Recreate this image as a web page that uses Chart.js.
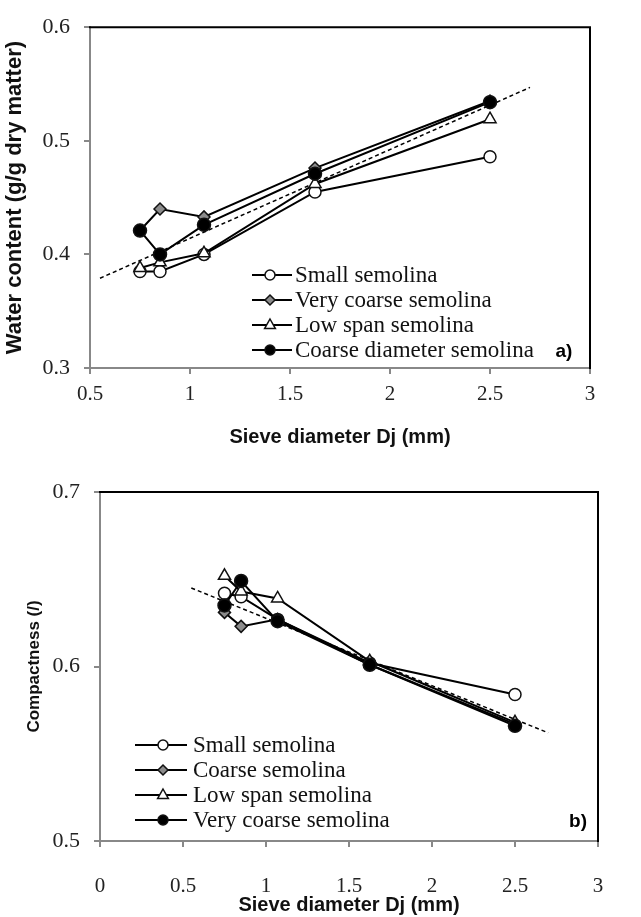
<!DOCTYPE html>
<html>
<head>
<meta charset="utf-8">
<script src="https://cdn.jsdelivr.net/npm/chart.js@4.4.1/dist/chart.umd.min.js"></script>
<style>
body { margin: 0; background: #fff; }
#wrap { position: relative; width: 641px; height: 917px; }
canvas { position: absolute; left: 0; }
</style>
</head>
<body>
<div id="wrap">
  <canvas id="chartA" width="641" height="452" style="top:0px"></canvas>
  <canvas id="chartB" width="641" height="457" style="top:460px"></canvas>
</div>
<script>
// sieve diameters Dj (mm), same for both panels
var sieveX = [0.75, 0.85, 1.07, 1.625, 2.5];

// a) water content (g/g dry matter)
var waterSmall = [0.385, 0.385, 0.400, 0.455, 0.486];
var waterVeryCoarse = [0.421, 0.440, 0.433, 0.476, 0.535];
var waterLowSpan = [0.388, 0.393, 0.401, 0.462, 0.519];
var waterCoarseDiam = [0.421, 0.400, 0.426, 0.471, 0.534];
var waterTrendX = [0.55, 2.7];
var waterTrendY = [0.379, 0.547];

// b) compactness (/)
var compSmall = [0.642, 0.640, 0.627, 0.602, 0.584];
var compCoarse = [0.631, 0.623, 0.627, 0.601, 0.567];
var compLowSpan = [0.652, 0.643, 0.639, 0.603, 0.568];
var compVeryCoarse = [0.635, 0.649, 0.626, 0.601, 0.566];
var compTrendX = [0.55, 2.7];
var compTrendY = [0.645, 0.562];

var legendA = ["Small semolina", "Very coarse semolina", "Low span semolina", "Coarse diameter semolina"];
var legendB = ["Small semolina", "Coarse semolina", "Low span semolina", "Very coarse semolina"];

var serif = '"Liberation Serif", "Times New Roman", serif';
var sans = '"Liberation Sans", Arial, sans-serif';

function toPoints(xs, ys)
{
    var pts = [];
    for (let i = 0; i < xs.length; i++) {
        pts.push({ x: xs[i], y: ys[i] });
    }
    return pts;
}

// marker looks: open circle, grey diamond, open triangle, filled circle
var markerStyles = [
    { pointStyle: 'circle', fill: '#ffffff', radius: 6 },
    { pointStyle: 'rectRot', fill: '#8c8c8c', radius: 6 },
    { pointStyle: 'triangle', fill: '#ffffff', radius: 7 },
    { pointStyle: 'circle', fill: '#000000', radius: 6.5 }
];

function seriesSet(label, xs, ys, style, order)
{
    return {
        label: label,
        data: toPoints(xs, ys),
        showLine: true,
        borderColor: '#000',
        borderWidth: 2,
        pointStyle: style.pointStyle,
        pointRadius: style.radius,
        pointBackgroundColor: style.fill,
        pointBorderColor: '#111',
        pointBorderWidth: 1.5,
        order: order
    };
}

function trendSet(xs, ys)
{
    return {
        data: toPoints(xs, ys),
        showLine: true,
        borderColor: '#000',
        borderWidth: 1.5,
        borderDash: [4, 3],
        pointRadius: 0,
        order: 10
    };
}

function drawMarker(ctx, style, x, y, r, fill)
{
    ctx.beginPath();
    if (style === 'rectRot') {
        ctx.moveTo(x, y - r); ctx.lineTo(x + r, y); ctx.lineTo(x, y + r); ctx.lineTo(x - r, y);
        ctx.closePath();
    } else if (style === 'triangle') {
        ctx.moveTo(x, y - r); ctx.lineTo(x + r * 0.9, y + r * 0.6); ctx.lineTo(x - r * 0.9, y + r * 0.6);
        ctx.closePath();
    } else {
        ctx.arc(x, y, r, 0, Math.PI * 2);
    }
    ctx.fillStyle = fill;
    ctx.fill();
    ctx.lineWidth = 1.5;
    ctx.strokeStyle = '#111';
    ctx.stroke();
}

// frame top/right edges, in-plot legend and the panel letter
var panelDecor = {
    id: 'panelDecor',
    afterDraw(chart, args, opts) {
        const ctx = chart.ctx;
        const a = chart.chartArea;
        ctx.save();
        ctx.strokeStyle = '#000';
        ctx.lineWidth = 2;
        ctx.beginPath();
        ctx.moveTo(a.left - 1, a.top);
        ctx.lineTo(a.right, a.top);
        ctx.lineTo(a.right, a.bottom + 1);
        ctx.stroke();

        ctx.font = '23px ' + serif;
        ctx.textBaseline = 'middle';
        ctx.textAlign = 'left';
        var row = 0;
        chart.data.datasets.forEach(function (ds, i) {
            if (!ds.label) {
                return;
            }
            var y = opts.legendY + row * opts.rowGap;
            ctx.strokeStyle = '#000';
            ctx.lineWidth = 2;
            ctx.beginPath();
            ctx.moveTo(opts.lineX0, y);
            ctx.lineTo(opts.lineX1, y);
            ctx.stroke();
            var st = markerStyles[i];
            drawMarker(ctx, st.pointStyle, opts.markerX, y, st.pointStyle === 'triangle' ? 6 : 5, st.fill);
            ctx.fillStyle = '#111';
            ctx.fillText(ds.label, opts.textX, y + 1);
            row++;
        });

        ctx.font = 'bold 19px ' + sans;
        ctx.textAlign = 'center';
        ctx.fillStyle = '#000';
        ctx.fillText(opts.panel, opts.panelX, opts.panelY);
        ctx.restore();
    }
};

function fmt(v)
{
    return String(Math.round(v * 10) / 10);
}

function makeChart(id, datasets, o)
{
    const ctx = document.getElementById(id).getContext('2d');
    return new Chart(ctx, {
        type: 'scatter',
        data: { datasets: datasets },
        plugins: [panelDecor],
        options: {
            responsive: false,
            animation: false,
            layout: { padding: { left: 0, top: o.padTop, right: o.padRight, bottom: 0 } },
            scales: {
                x: {
                    type: 'linear',
                    min: o.xmin,
                    max: o.xmax,
                    afterFit: function (s) { s.height = o.xHeight; },
                    ticks: {
                        stepSize: 0.5,
                        padding: o.xTickPad,
                        color: '#222',
                        font: { family: serif, size: 21 },
                        callback: fmt
                    },
                    grid: { drawOnChartArea: false, drawTicks: true, tickLength: 6, color: '#888', lineWidth: 2 },
                    border: { display: true, color: '#888', width: 2 },
                    title: {
                        display: true,
                        text: 'Sieve diameter Dj (mm)',
                        color: '#111',
                        padding: { top: 0, bottom: o.xTitlePad },
                        font: { family: sans, size: 20, weight: 'bold' }
                    }
                },
                y: {
                    type: 'linear',
                    min: o.ymin,
                    max: o.ymax,
                    afterFit: function (s) { s.width = o.yWidth; },
                    ticks: {
                        stepSize: 0.1,
                        padding: o.yTickPad,
                        color: '#222',
                        font: { family: serif, size: 22 },
                        callback: fmt
                    },
                    grid: { drawOnChartArea: false, drawTicks: true, tickLength: 6, color: '#888', lineWidth: 2 },
                    border: { display: true, color: '#888', width: 2 },
                    title: {
                        display: true,
                        text: o.yTitle,
                        color: '#111',
                        padding: { top: o.yTitlePad, bottom: 0 },
                        font: { family: sans, size: o.yTitleSize, weight: 'bold' }
                    }
                }
            },
            plugins: {
                legend: { display: false },
                tooltip: { enabled: false },
                panelDecor: o.decor
            }
        }
    });
}

makeChart('chartA', [
    seriesSet(legendA[0], sieveX, waterSmall, markerStyles[0], 3),
    seriesSet(legendA[1], sieveX, waterVeryCoarse, markerStyles[1], 2),
    seriesSet(legendA[2], sieveX, waterLowSpan, markerStyles[2], 1),
    seriesSet(legendA[3], sieveX, waterCoarseDiam, markerStyles[3], 0),
    trendSet(waterTrendX, waterTrendY)
], {
    xmin: 0.5, xmax: 3, ymin: 0.3, ymax: 0.6,
    padTop: 20, padRight: 51, xHeight: 84, yWidth: 90,
    xTickPad: 8, yTickPad: 14, xTitlePad: 3, yTitlePad: 2,
    yTitle: 'Water content (g/g dry matter)', yTitleSize: 22,
    decor: { legendY: 275, rowGap: 25, lineX0: 252, lineX1: 292, markerX: 270, textX: 295,
             panel: 'a)', panelX: 564, panelY: 352 }
});

makeChart('chartB', [
    seriesSet(legendB[0], sieveX, compSmall, markerStyles[0], 3),
    seriesSet(legendB[1], sieveX, compCoarse, markerStyles[1], 2),
    seriesSet(legendB[2], sieveX, compLowSpan, markerStyles[2], 1),
    seriesSet(legendB[3], sieveX, compVeryCoarse, markerStyles[3], 0),
    trendSet(compTrendX, compTrendY)
], {
    xmin: 0, xmax: 3, ymin: 0.5, ymax: 0.7,
    padTop: 32, padRight: 43, xHeight: 76, yWidth: 100,
    xTickPad: 27, yTickPad: 14, xTitlePad: 0, yTitlePad: 24,
    yTitle: 'Compactness (/)', yTitleSize: 17,
    decor: { legendY: 285, rowGap: 25, lineX0: 135, lineX1: 187, markerX: 163, textX: 193,
             panel: 'b)', panelX: 578, panelY: 362 }
});
</script>
</body>
</html>
